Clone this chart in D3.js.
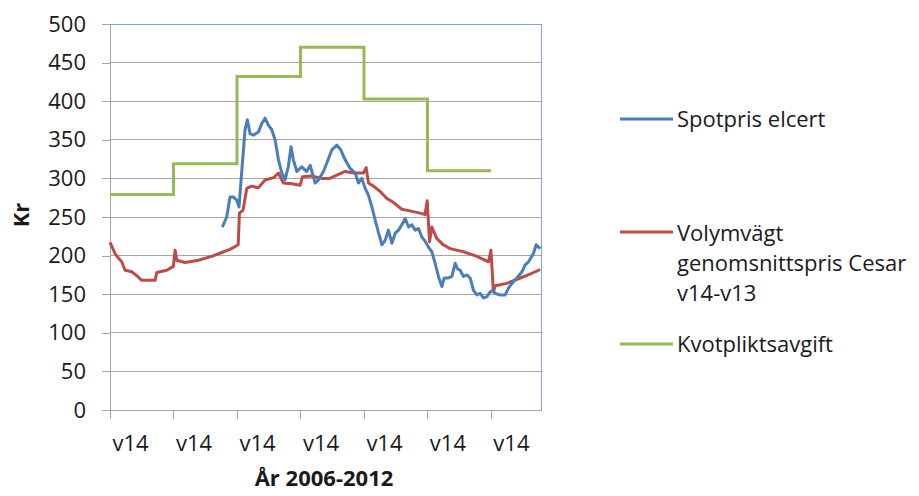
<!DOCTYPE html>
<html>
<head>
<meta charset="utf-8">
<script src="https://cdn.jsdelivr.net/npm/d3@7/dist/d3.min.js"></script>
<style>
  html, body { margin: 0; padding: 0; background: #fff; }
  svg { display: block; font-family: "Open Sans", sans-serif; }
</style>
</head>
<body>
<svg id="chart" width="919" height="496"></svg>
<script>
// ---- data (week index counted from 2006 v14) ----
const yTicks = [0, 50, 100, 150, 200, 250, 300, 350, 400, 450, 500];
const xTickWeeks = [0, 52, 104, 156, 208, 260, 312];
const xTickLabels = ["v14", "v14", "v14", "v14", "v14", "v14", "v14"];
const seriesNames = ["Spotpris elcert", "Volymvägt genomsnittspris Cesar v14-v13", "Kvotpliktsavgift"];

const spotWeeks = [92, 95.6, 98.3, 101, 103.8, 105.7, 108, 110.6, 112.5, 114.7, 117.4, 121.5, 124.3, 127, 129.7, 132.5, 135.2, 138, 140.7, 143.4, 146, 148.3, 150.2, 153, 157, 161, 164, 168, 170.7, 174.8, 177.6, 181.7, 185.8, 189, 192.6, 196.7, 200.8, 203.5, 206.3, 209, 211.7, 214.5, 217.2, 220, 222.7, 225.4, 228, 230.9, 233.6, 236.3, 239, 241.8, 244.5, 247.2, 250, 252.7, 255.4, 258, 260.8, 263.6, 266.3, 269, 271.8, 273.7, 277.2, 280, 282.7, 284.6, 286.8, 289.5, 292.3, 295, 297.7, 300.5, 303.2, 306, 308.7, 311.4, 313.6, 315.5, 319.6, 323.7, 326.4, 329.2, 333.3, 337.4, 340, 342.8, 346.9, 349, 352.4];
const spotValues = [237, 250, 276, 276, 272, 263, 311, 363, 376, 358, 356, 360, 371, 378, 369, 363, 350, 324, 307, 298, 315, 341, 324, 309, 315, 309, 317, 294, 298, 309, 320, 337, 343, 337, 324, 313, 307, 294, 300, 287, 278, 263, 246, 229, 214, 220, 233, 216, 229, 233, 240, 248, 237, 240, 233, 235, 224, 219, 211, 205, 190, 173, 160, 171, 171, 173, 190, 183, 181, 173, 175, 171, 155, 149, 151, 145, 147, 153, 155, 151, 149, 149, 158, 164, 171, 179, 188, 192, 203, 214, 209];

const cesarWeeks = [0, 4.1, 6.8, 9.6, 12.3, 17.8, 21.9, 26, 36.9, 38.3, 46.5, 51.9, 53.3, 54.7, 61.5, 72.4, 83.3, 91.5, 98.3, 105, 106, 109, 112, 116, 121.5, 127, 134, 138, 142, 149, 155.7, 157.6, 165, 173.5, 180, 192.6, 199.4, 207.6, 209.8, 211.7, 215.8, 221.3, 226.8, 232, 239, 248.5, 254, 258, 259.8, 261.7, 263.6, 267.7, 273, 278.6, 289.5, 300.5, 310, 312, 314, 315.5, 325, 336, 344, 352.4];
const cesarValues = [217, 203, 197, 192, 181, 179, 174, 168, 168, 178, 181, 186, 207, 194, 191, 194, 199, 204, 208, 214, 255, 259, 287, 290, 288, 298, 301, 307, 294, 293, 291, 302, 303, 300, 300, 309, 307, 307, 314, 294, 290, 283, 274, 269, 260, 257, 255, 253, 271, 218, 237, 222, 214, 209, 205, 199, 192, 207, 153, 161, 164, 171, 176, 182];

const quotaWeeks = [0, 52, 104, 156, 208, 260, 312];
const quotaValues = [279, 319, 432, 470, 403, 310, 310];

const colors = ["#4a7ebb", "#be4b48", "#98b954"];

// ---- layout ----
const svg = d3.select("#chart");
const plot = { left: 110, right: 541, top: 24, bottom: 410 };
const x = d3.scaleLinear().domain([0, 353]).range([plot.left, plot.right]);
const y = d3.scaleLinear().domain([0, 500]).range([plot.bottom, plot.top]);

// gridlines
svg.append("g").selectAll("line").data(yTicks.filter(d => d > 0)).join("line")
  .attr("x1", plot.left).attr("x2", plot.right)
  .attr("y1", d => y(d)).attr("y2", d => y(d))
  .attr("stroke", "#a6a6a6").attr("stroke-width", 1).attr("shape-rendering", "crispEdges");

// plot border (top & right)
svg.append("path")
  .attr("d", `M${plot.left},${y(500)}H${plot.right}V${plot.bottom}`)
  .attr("fill", "none").attr("stroke", "#7fa6d6").attr("stroke-width", 1).attr("shape-rendering", "crispEdges");

// y axis
const yAxis = svg.append("g").attr("transform", `translate(${plot.left},0)`)
  .call(d3.axisLeft(y).tickValues(yTicks).tickSize(8).tickPadding(16).tickFormat(d3.format("d")));
yAxis.select(".domain").attr("stroke", "#a6a6a6").attr("shape-rendering", "crispEdges");
yAxis.selectAll(".tick line").attr("stroke", "#a6a6a6").attr("shape-rendering", "crispEdges");
yAxis.selectAll(".tick text").attr("font-size", 22).attr("font-family", "Open Sans").attr("fill", "#1a1a1a");

// x axis
const xAxis = svg.append("g").attr("transform", `translate(0,${plot.bottom})`)
  .call(d3.axisBottom(x).tickValues(xTickWeeks).tickSize(9).tickSizeOuter(0).tickFormat((d, i) => xTickLabels[i]));
xAxis.select(".domain").attr("stroke", "#a6a6a6").attr("shape-rendering", "crispEdges");
xAxis.selectAll(".tick line").attr("stroke", "#a6a6a6").attr("shape-rendering", "crispEdges");
xAxis.selectAll(".tick text").attr("font-size", 22).attr("font-family", "Open Sans").attr("fill", "#1a1a1a")
  .attr("x", 20).attr("y", 25);

// lines
const line = d3.line().x(d => x(d[0])).y(d => y(d[1]));
const stepLine = d3.line().x(d => x(d[0])).y(d => y(d[1])).curve(d3.curveStepAfter);

svg.append("path").datum(d3.zip(quotaWeeks, quotaValues))
  .attr("d", stepLine).attr("fill", "none").attr("stroke", colors[2]).attr("stroke-width", 3);
svg.append("path").datum(d3.zip(cesarWeeks, cesarValues))
  .attr("d", line).attr("fill", "none").attr("stroke", colors[1]).attr("stroke-width", 3).attr("stroke-linejoin", "round");
svg.append("path").datum(d3.zip(spotWeeks, spotValues))
  .attr("d", line).attr("fill", "none").attr("stroke", colors[0]).attr("stroke-width", 3).attr("stroke-linejoin", "round");

// axis titles
svg.append("text").attr("x", 324).attr("y", 486).attr("text-anchor", "middle")
  .attr("font-size", 22).attr("font-weight", "bold").attr("fill", "#1a1a1a").text("År 2006-2012");
svg.append("text").attr("transform", "translate(29,215) rotate(-90)").attr("text-anchor", "middle")
  .attr("font-size", 22).attr("font-weight", "bold").attr("fill", "#1a1a1a").text("Kr");

// legend
const legendItems = [
  { lineY: 119, lines: ["Spotpris elcert"], baseline: 127 },
  { lineY: 232, lines: ["Volymvägt", "genomsnittspris Cesar", "v14-v13"], baseline: 241 },
  { lineY: 344, lines: ["Kvotpliktsavgift"], baseline: 352 }
];
const lg = svg.append("g");
legendItems.forEach((it, i) => {
  lg.append("line").attr("x1", 620).attr("x2", 673).attr("y1", it.lineY).attr("y2", it.lineY)
    .attr("stroke", colors[i]).attr("stroke-width", 3);
  const t = lg.append("text").attr("x", 677).attr("y", it.baseline).attr("font-size", 22).attr("fill", "#1a1a1a");
  it.lines.forEach((s, j) => t.append("tspan").attr("x", 677).attr("dy", j === 0 ? 0 : 30).text(s));
});
</script>
</body>
</html>
